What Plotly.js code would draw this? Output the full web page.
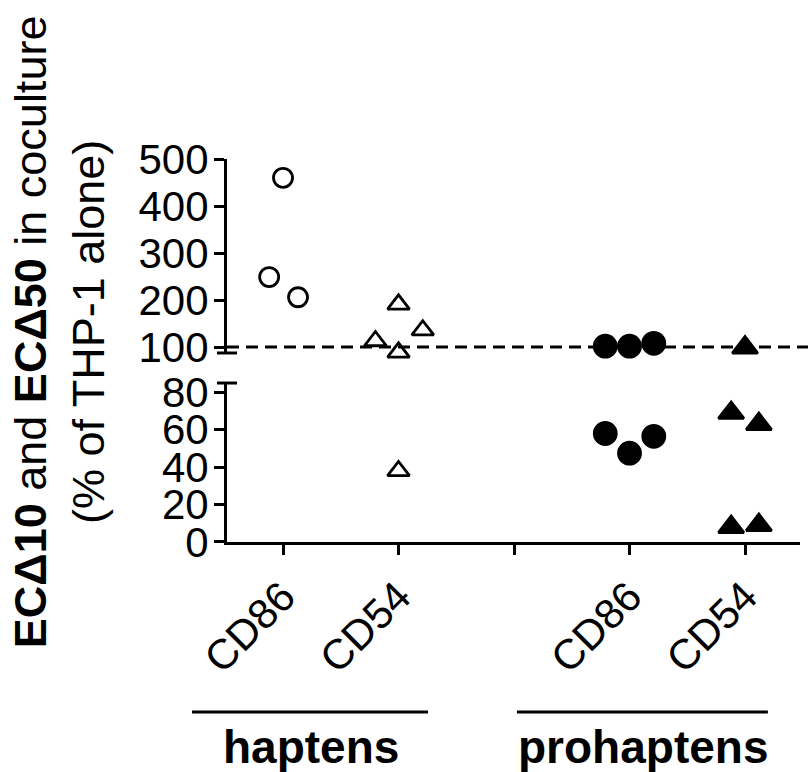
<!DOCTYPE html>
<html>
<head>
<meta charset="utf-8">
<script src="https://cdn.plot.ly/plotly-3.0.1.min.js"></script>
<style>html,body{margin:0;padding:0;background:#fff;}#chart{width:808px;height:772px;}</style>
</head>
<body>
<div id="chart"></div>
<script>
// ---- data ----
var categories = ["CD86", "CD54", "", "CD86", "CD54"];
var groupNames = ["haptens", "prohaptens"];
// haptens CD86 (open circles)
var hapCD86X = [0, -0.12, 0.13, 0];
var hapCD86Y = [460, 249, 206, 86];
// haptens CD54 (open triangles)
var hapCD54X = [0.8, 1, 1.21, 1, 1];
var hapCD54Y = [113, 191, 136, 89, 38];
// prohaptens CD86 (filled circles)
var proCD86X = [2.79, 3, 3.21, 2.79, 3, 3.21];
var proCD86Y = [102, 102, 108, 58, 47.5, 56.5];
// prohaptens CD54 (filled triangles)
var proCD54X = [4, 3.88, 4.12, 3.88, 4.12];
var proCD54Y = [99, 69, 63, 8, 9];
var breakAt = 85;
var refLine = 100;

var FONT = "Liberation Sans, Arial, sans-serif";

function split(xs, ys, upper) {
  var ox = [], oy = [];
  for (var i = 0; i < ys.length; i++) {
    if ((ys[i] >= breakAt) === upper) { ox.push(xs[i]); oy.push(ys[i]); }
  }
  return {x: ox, y: oy};
}

var series = [
  {x: hapCD86X, y: hapCD86Y, symbol: "circle-open", size: 19},
  {x: hapCD54X, y: hapCD54Y, symbol: "triangle-up-open", size: 19},
  {x: proCD86X, y: proCD86Y, symbol: "circle", size: 22},
  {x: proCD54X, y: proCD54Y, symbol: "triangle-up", size: 22}
];

var traces = [];
series.forEach(function (s) {
  [true, false].forEach(function (up) {
    var d = split(s.x, s.y, up);
    traces.push({
      type: "scatter", mode: "markers", x: d.x, y: d.y,
      xaxis: "x", yaxis: up ? "y2" : "y",
      cliponaxis: false, showlegend: false, hoverinfo: "skip",
      marker: {symbol: s.symbol, size: s.size, color: "#000",
               line: {color: "#000", width: 2.8}}
    });
  });
});

var axisCommon = {
  showline: true, linecolor: "#000", linewidth: 3,
  ticks: "outside", ticklen: 10, tickwidth: 3, tickcolor: "#000",
  showgrid: false, zeroline: false,
  tickfont: {family: FONT, size: 42, color: "#000"}
};

var layout = {
  width: 808, height: 772,
  margin: {l: 227, r: 8, t: 159, b: 230},
  paper_bgcolor: "#fff", plot_bgcolor: "#fff",
  showlegend: false,
  xaxis: Object.assign({}, axisCommon, {
    range: [-0.485, 4.476], tickmode: "array",
    tickvals: [0, 1, 2, 3, 4], ticktext: categories,
    tickangle: -45, anchor: "y",
    tickfont: {family: FONT, size: 42, color: "#000"}
  }),
  yaxis: Object.assign({}, axisCommon, {
    domain: [0, 0.4151], range: [0, 85], tickmode: "array",
    tickvals: [0, 20, 40, 60, 80], anchor: "x", ticklabelstandoff: -3
  }),
  yaxis2: Object.assign({}, axisCommon, {
    domain: [0.4935, 1], range: [87.5, 500], tickmode: "array",
    tickvals: [100, 200, 300, 400, 500], anchor: "x", ticklabelstandoff: -3
  }),
  shapes: [
    {type: "line", xref: "paper", x0: 0, x1: 1.014, yref: "y2", y0: refLine, y1: refLine,
     line: {color: "#000", width: 3, dash: "12px,7px"}},
    {type: "line", xref: "paper", x0: -0.0175, x1: 0.0175, yref: "y2 domain", y0: 0, y1: 0,
     line: {color: "#000", width: 3}},
    {type: "line", xref: "paper", x0: -0.0175, x1: 0.0175, yref: "y domain", y0: 1, y1: 1,
     line: {color: "#000", width: 3}},
    {type: "line", xref: "paper", x0: -0.0611, x1: 0.3508, yref: "paper", y0: -0.4439, y1: -0.4439,
     line: {color: "#000", width: 3}},
    {type: "line", xref: "paper", x0: 0.506, x1: 0.944, yref: "paper", y0: -0.4439, y1: -0.4439,
     line: {color: "#000", width: 3}}
  ],
  annotations: [
    {xref: "paper", yref: "paper", x: 0.1466, y: -0.535, xanchor: "center", yanchor: "middle",
     text: "<b>" + groupNames[0] + "</b>", showarrow: false,
     font: {family: FONT, size: 46, color: "#000"}},
    {xref: "paper", yref: "paper", x: 0.726, y: -0.535, xanchor: "center", yanchor: "middle",
     text: "<b>" + groupNames[1] + "</b>", showarrow: false,
     font: {family: FONT, size: 46, color: "#000"}},
    {xref: "paper", yref: "paper", x: -0.2914, y: 0.548, xanchor: "center", yanchor: "middle",
     textangle: -90, align: "center", showarrow: false,
     text: "<b>ECΔ10</b> and <b>ECΔ50</b> in coculture<br>(% of THP-1 alone)",
     font: {family: FONT, size: 45, color: "#000"}}
  ]
};

Plotly.newPlot("chart", traces, layout, {staticPlot: true, displayModeBar: false});
</script>
</body>
</html>
